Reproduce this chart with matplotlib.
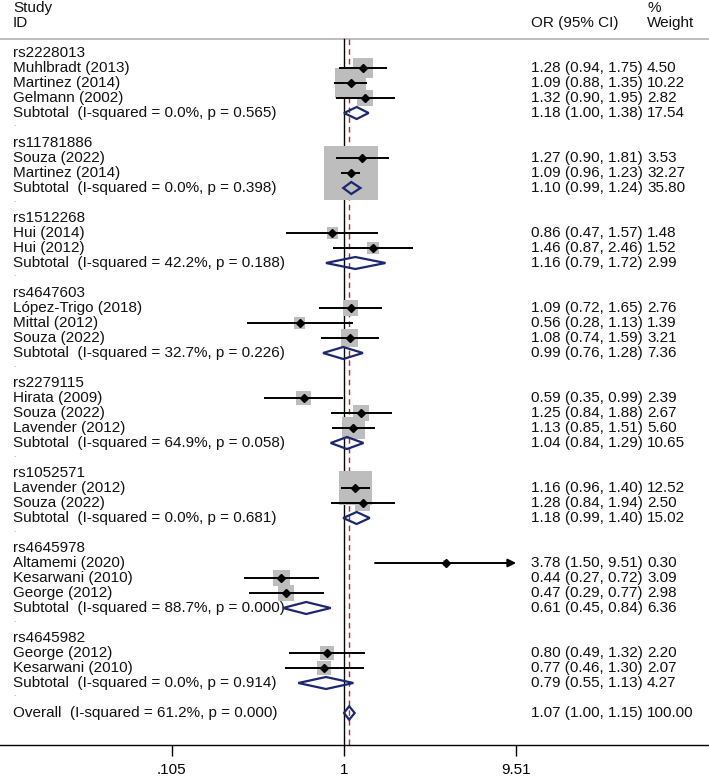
import matplotlib
matplotlib.use("Agg")
import matplotlib.pyplot as plt
from matplotlib.patches import Polygon
import numpy as np

plt.rcParams['font.family'] = ['Liberation Sans', 'DejaVu Sans']

# ---------------- data ----------------
groups = ["rs2228013", "rs11781886", "rs1512268", "rs4647603",
          "rs2279115", "rs1052571", "rs4645978", "rs4645982"]

study_names = [
    ["Muhlbradt (2013)", "Martinez (2014)", "Gelmann (2002)"],
    ["Souza (2022)", "Martinez (2014)"],
    ["Hui (2014)", "Hui (2012)"],
    ["López-Trigo (2018)", "Mittal (2012)", "Souza (2022)"],
    ["Hirata (2009)", "Souza (2022)", "Lavender (2012)"],
    ["Lavender (2012)", "Souza (2022)"],
    ["Altamemi (2020)", "Kesarwani (2010)", "George (2012)"],
    ["George (2012)", "Kesarwani (2010)"],
]
study_or = [[1.28, 1.09, 1.32], [1.27, 1.09], [0.86, 1.46], [1.09, 0.56, 1.08],
            [0.59, 1.25, 1.13], [1.16, 1.28], [3.78, 0.44, 0.47], [0.80, 0.77]]
study_lo = [[0.94, 0.88, 0.90], [0.90, 0.96], [0.47, 0.87], [0.72, 0.28, 0.74],
            [0.35, 0.84, 0.85], [0.96, 0.84], [1.50, 0.27, 0.29], [0.49, 0.46]]
study_hi = [[1.75, 1.35, 1.95], [1.81, 1.23], [1.57, 2.46], [1.65, 1.13, 1.59],
            [0.99, 1.88, 1.51], [1.40, 1.94], [9.51, 0.72, 0.77], [1.32, 1.30]]
study_w = [[4.50, 10.22, 2.82], [3.53, 32.27], [1.48, 1.52], [2.76, 1.39, 3.21],
           [2.39, 2.67, 5.60], [12.52, 2.50], [0.30, 3.09, 2.98], [2.20, 2.07]]

sub_isq = ["0.0", "0.0", "42.2", "32.7", "64.9", "0.0", "88.7", "0.0"]
sub_p = ["0.565", "0.398", "0.188", "0.226", "0.058", "0.681", "0.000", "0.914"]
sub_or = [1.18, 1.10, 1.16, 0.99, 1.04, 1.18, 0.61, 0.79]
sub_lo = [1.00, 0.99, 0.79, 0.76, 0.84, 0.99, 0.45, 0.55]
sub_hi = [1.38, 1.24, 1.72, 1.28, 1.29, 1.40, 0.84, 1.13]
sub_w = [17.54, 35.80, 2.99, 7.36, 10.65, 15.02, 6.36, 4.27]

overall_isq, overall_p = "61.2", "0.000"
overall_or, overall_lo, overall_hi, overall_w = 1.07, 1.00, 1.15, 100.00

tick_vals = [0.105, 1, 9.51]
tick_labels = [".105", "1", "9.51"]
axis_min, axis_max = 0.105, 9.51

# ---------------- layout ----------------
W, H, DPI = 7.09, 7.77, 100
fig = plt.figure(figsize=(W, H), dpi=DPI)
row0_px, row_px = 53.0, 15.0
axis_px = 745.0
ax = fig.add_axes([0, (777 - axis_px) / 777, 1, axis_px / 777])
ax.set_xscale('log')
x0_px, dec_px = 344.0, 176.0
ax.set_xlim(10 ** (-x0_px / dec_px), 10 ** ((709 - x0_px) / dec_px))
ax.set_ylim((axis_px - row0_px) / row_px, -row0_px / row_px)

for s in ['top', 'left', 'right']:
    ax.spines[s].set_visible(False)
ax.spines['bottom'].set_linewidth(1.0)
ax.set_yticks([])
ax.set_xticks(tick_vals)
ax.set_xticklabels(tick_labels)
ax.minorticks_off()
ax.tick_params(axis='x', length=8, width=1.0, labelsize=11, pad=5)

FS = 11
text_kw = dict(fontsize=FS, va='center', color='#111111')
x_left = 13 / 709
x_or = 531 / 709
x_wt = 647 / 709
tr = ax.get_yaxis_transform()  # x in axes fraction, y in data

# headers
ax.text(x_left, -3, "Study", transform=tr, **text_kw)
ax.text(x_left, -2, "ID", transform=tr, **text_kw)
ax.text(x_or, -2, "OR (95% CI)", transform=tr, **text_kw)
ax.text(x_wt, -3, "%", transform=tr, **text_kw)
ax.text(x_wt, -2, "Weight", transform=tr, **text_kw)
top_line_y = -0.93
ax.axhline(top_line_y, color='#b8b8b8', lw=1.3, zorder=1)

# reference lines
ax.plot([1, 1], [top_line_y, ax.get_ylim()[0]], color='black', lw=1.0, zorder=2)
ax.plot([overall_or, overall_or], [top_line_y, ax.get_ylim()[0]], color='#b22a2a',
        lw=1.0, dashes=(4, 3), zorder=2)

px_per_pt = DPI / 72.0
navy = '#1b2770'
dh = 0.4

def diamond(es, lo, hi, y, h=dh):
    poly = Polygon([[lo, y], [es, y - h], [hi, y], [es, y + h]], closed=True,
                   facecolor='none', edgecolor=navy, lw=1.6, zorder=5)
    ax.add_patch(poly)

row = 0
for g in range(len(groups)):
    ax.text(x_left, row, groups[g], transform=tr, **text_kw)
    row += 1
    for k in range(len(study_names[g])):
        es, lo, hi, w = study_or[g][k], study_lo[g][k], study_hi[g][k], study_w[g][k]
        side_px = 9.5 * np.sqrt(w)
        ax.scatter([es], [row], marker='s', s=(side_px / px_per_pt) ** 2,
                   color='#bdbdbd', edgecolors='none', zorder=3)
        if hi >= axis_max:
            ax.annotate("", xy=(axis_max, row), xytext=(lo, row),
                        arrowprops=dict(arrowstyle='-|>', color='black', lw=1.4,
                                        mutation_scale=12, shrinkA=0, shrinkB=0),
                        zorder=4)
        else:
            ax.plot([lo, hi], [row, row], color='black', lw=1.4, zorder=4,
                    solid_capstyle='butt')
        ax.plot([es], [row], marker='D', ms=4.2, color='black', zorder=6)
        ax.text(x_left, row, study_names[g][k], transform=tr, **text_kw)
        ax.text(x_or, row, f"{es:.2f} ({lo:.2f}, {hi:.2f})", transform=tr, **text_kw)
        ax.text(x_wt, row, f"{w:.2f}", transform=tr, **text_kw)
        row += 1
    diamond(sub_or[g], sub_lo[g], sub_hi[g], row)
    ax.text(x_left, row, f"Subtotal  (I-squared = {sub_isq[g]}%, p = {sub_p[g]})",
            transform=tr, **text_kw)
    ax.text(x_or, row, f"{sub_or[g]:.2f} ({sub_lo[g]:.2f}, {sub_hi[g]:.2f})",
            transform=tr, **text_kw)
    ax.text(x_wt, row, f"{sub_w[g]:.2f}", transform=tr, **text_kw)
    row += 1
    ax.text(x_left, row - 0.2, ".", transform=tr, fontsize=6, va='center', color='#777777')
    row += 1

diamond(overall_or, overall_lo, overall_hi, row, h=0.45)
ax.text(x_left, row, f"Overall  (I-squared = {overall_isq}%, p = {overall_p})",
        transform=tr, **text_kw)
ax.text(x_or, row, f"{overall_or:.2f} ({overall_lo:.2f}, {overall_hi:.2f})",
        transform=tr, **text_kw)
ax.text(x_wt, row, f"{overall_w:.2f}", transform=tr, **text_kw)

fig.savefig("out.png", dpi=DPI)
